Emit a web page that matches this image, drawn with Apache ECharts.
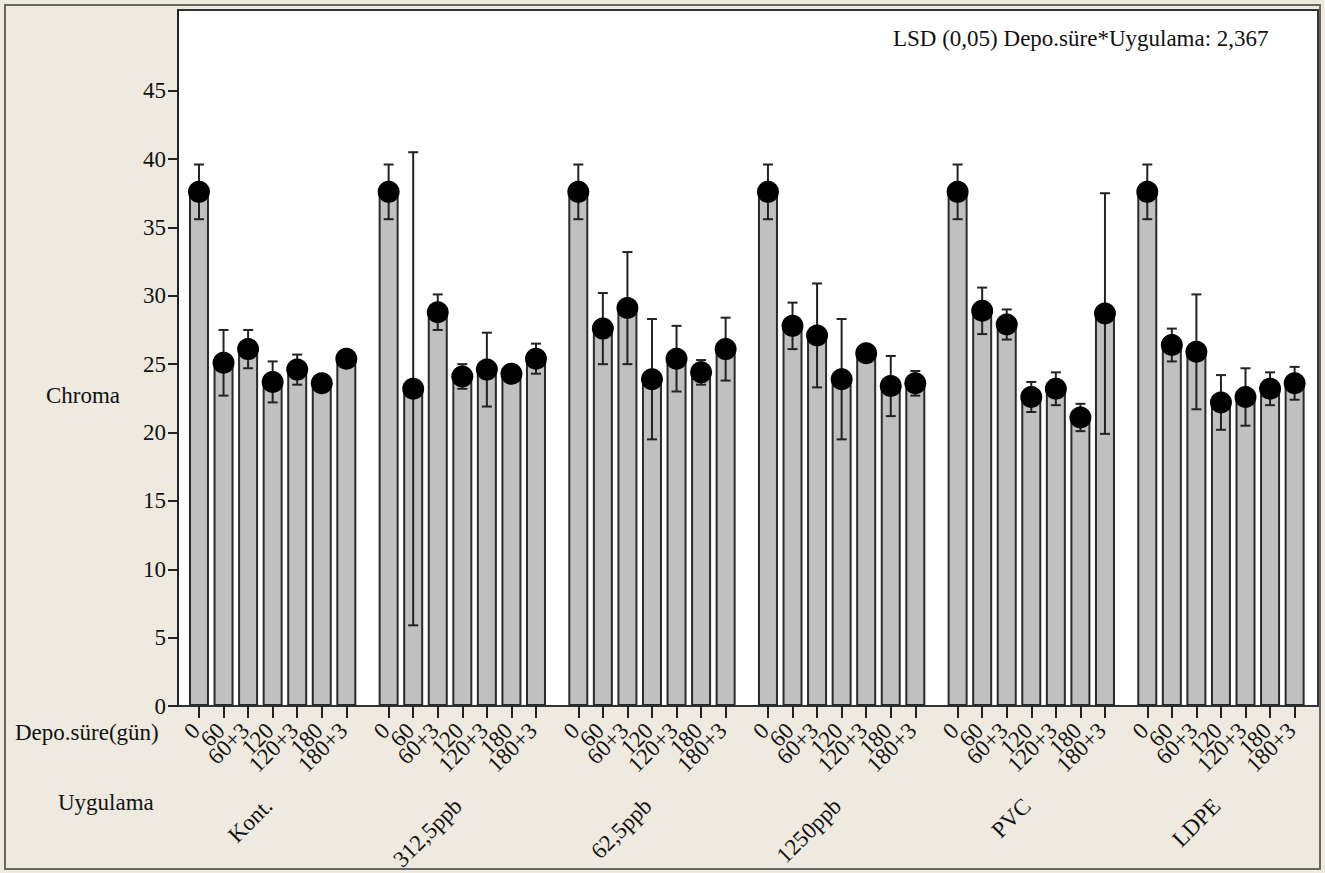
<!DOCTYPE html>
<html><head><meta charset="utf-8">
<script src="https://cdn.jsdelivr.net/npm/echarts@6/dist/echarts.min.js"></script>
<style>html,body{margin:0;padding:0;background:#EEEAE0}#c{width:1325px;height:873px}</style>
</head><body><div id="c"></div>
<script>
const depoLabels = ['0', '60', '60+3', '120', '120+3', '180', '180+3'];
const uygulamaLabels = ['Kont.', '312,5ppb', '62,5ppb', '1250ppb', 'PVC', 'LDPE'];
const yTickValues = [0, 5, 10, 15, 20, 25, 30, 35, 40, 45];

const kontMean  = [37.6, 25.1, 26.1, 23.7, 24.6, 23.6, 25.4];
const kontErr   = [2.0, 2.4, 1.4, 1.5, 1.1, 0.3, 0.3];
const p312Mean  = [37.6, 23.2, 28.8, 24.1, 24.6, 24.3, 25.4];
const p312Err   = [2.0, 17.3, 1.3, 0.9, 2.7, 0.3, 1.1];
const p625Mean  = [37.6, 27.6, 29.1, 23.9, 25.4, 24.4, 26.1];
const p625Err   = [2.0, 2.6, 4.1, 4.4, 2.4, 0.9, 2.3];
const p1250Mean = [37.6, 27.8, 27.1, 23.9, 25.8, 23.4, 23.6];
const p1250Err  = [2.0, 1.7, 3.8, 4.4, 0.3, 2.2, 0.9];
const pvcMean   = [37.6, 28.9, 27.9, 22.6, 23.2, 21.1, 28.7];
const pvcErr    = [2.0, 1.7, 1.1, 1.1, 1.2, 1.0, 8.8];
const ldpeMean  = [37.6, 26.4, 25.9, 22.2, 22.6, 23.2, 23.6];
const ldpeErr   = [2.0, 1.2, 4.2, 2.0, 2.1, 1.2, 1.2];

const means = [kontMean, p312Mean, p625Mean, p1250Mean, pvcMean, ldpeMean];
const errs  = [kontErr, p312Err, p625Err, p1250Err, pvcErr, ldpeErr];

const FONT = "'Liberation Serif', 'Times New Roman', serif";
const FS = 23;
const TXT = '#111';
const Y_MAX = 50.9;
const PLOT_TOP = 10, PLOT_BOTTOM = 167, PLOT_LEFT = 178, PLOT_RIGHT = 7;
const GROUP_START = 186.7, GROUP_STEP = 189.66, GROUP_W = 171.9;

const grids = [{ left: PLOT_LEFT, right: PLOT_RIGHT, top: PLOT_TOP, bottom: PLOT_BOTTOM,
  containLabel: false, outerBoundsMode: 'none',
  show: true, backgroundColor: '#ffffff', borderColor: '#333', borderWidth: 2 }];
const xAxes = [{ gridIndex: 0, type: 'value', show: false, min: 0, max: 1 }];
const yAxes = [{
  gridIndex: 0, type: 'value', min: 0, max: Y_MAX, interval: 5,
  axisLine: { show: true, lineStyle: { color: '#222', width: 2 } },
  axisTick: { show: true, length: 10, customValues: yTickValues, lineStyle: { color: '#222', width: 2 } },
  splitLine: { show: false },
  axisLabel: { fontFamily: FONT, fontSize: FS, color: TXT, margin: 12, customValues: yTickValues },
  name: 'Chroma', nameLocation: 'middle', nameGap: 95, nameRotate: 0,
  nameTextStyle: { fontFamily: FONT, fontSize: FS, color: TXT, align: 'center', verticalAlign: 'top',
    lineHeight: 74 }
}];
const series = [];

function renderErr(params, api) {
  const x = api.value(0), lo = api.value(1), hi = api.value(2);
  const pHi = api.coord([x, hi]), pLo = api.coord([x, lo]);
  const cap = 5;
  const st = { stroke: '#222', lineWidth: 2 };
  return { type: 'group', children: [
    { type: 'line', shape: { x1: pHi[0], y1: pHi[1], x2: pLo[0], y2: pLo[1] }, style: st },
    { type: 'line', shape: { x1: pHi[0] - cap, y1: pHi[1], x2: pHi[0] + cap, y2: pHi[1] }, style: st },
    { type: 'line', shape: { x1: pLo[0] - cap, y1: pLo[1], x2: pLo[0] + cap, y2: pLo[1] }, style: st }
  ]};
}

uygulamaLabels.forEach((name, g) => {
  const gi = g + 1;
  grids.push({ left: GROUP_START + g * GROUP_STEP, width: GROUP_W, top: PLOT_TOP, bottom: PLOT_BOTTOM,
    containLabel: false, outerBoundsMode: 'none', show: false });
  xAxes.push({
    gridIndex: gi, type: 'category', data: depoLabels,
    axisLine: { show: false },
    axisTick: { show: true, alignWithLabel: true, interval: 0, length: 12, lineStyle: { color: '#222', width: 2 } },
    axisLabel: { interval: 0, rotate: 45, fontFamily: FONT, fontSize: FS, color: TXT, margin: 18,
      padding: [0, 4, 0, 0] },
    name: name, nameLocation: 'middle', nameGap: 92, nameRotate: 45,
    nameTextStyle: { fontFamily: FONT, fontSize: FS, color: TXT, align: 'right', verticalAlign: 'middle',
      padding: [0, 6, 0, 0] }
  });
  yAxes.push({ gridIndex: gi, type: 'value', min: 0, max: Y_MAX, show: false, splitLine: { show: false } });
  series.push({
    type: 'bar', xAxisIndex: gi, yAxisIndex: gi, barWidth: 20, z: 2,
    itemStyle: { color: '#C0C0C0', borderColor: '#2a2a2a', borderWidth: 2 },
    data: means[g]
  });
  series.push({
    type: 'custom', xAxisIndex: gi, yAxisIndex: gi, z: 3, renderItem: renderErr,
    encode: { x: 0, y: [1, 2] },
    data: means[g].map((m, i) => [i, m - errs[g][i], m + errs[g][i]])
  });
  series.push({
    type: 'scatter', xAxisIndex: gi, yAxisIndex: gi, z: 4, symbol: 'circle', symbolSize: 22,
    itemStyle: { color: '#000', opacity: 1 },
    data: means[g].map((m, i) => [i, m])
  });
});

const chart = echarts.init(document.getElementById('c'), null, { renderer: 'svg' });
chart.setOption({
  backgroundColor: '#EEEAE0',
  animation: false,
  grid: grids, xAxis: xAxes, yAxis: yAxes, series: series,
  graphic: [
    { type: 'rect', shape: { x: 5, y: 5, width: 1315, height: 864 }, silent: true, z: -1,
      style: { fill: null, stroke: '#666', lineWidth: 2 } },
    { type: 'text', left: 15, top: 721, style: { text: 'Depo.süre(gün)', font: FS + "px 'Liberation Serif'", fill: TXT } },
    { type: 'text', left: 58, top: 791, style: { text: 'Uygulama', font: FS + "px 'Liberation Serif'", fill: TXT } },
    { type: 'text', left: 893, top: 27, style: { text: 'LSD (0,05) Depo.süre*Uygulama: 2,367', font: FS + "px 'Liberation Serif'", fill: TXT } }
  ]
});
</script></body></html>
